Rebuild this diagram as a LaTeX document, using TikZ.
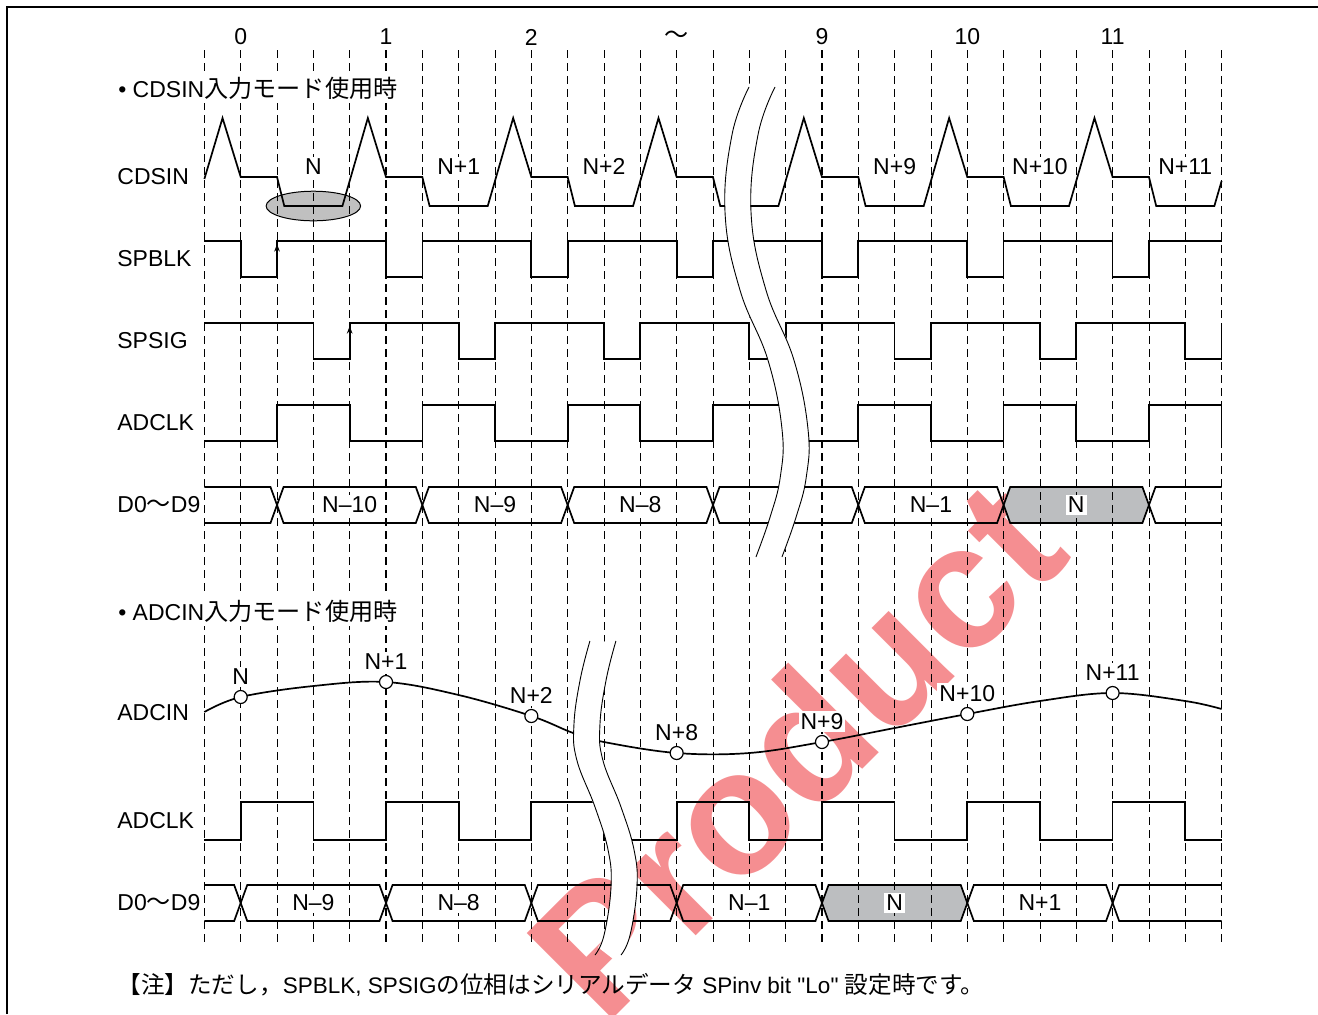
\documentclass[tikz,border=0pt]{standalone}
\usepackage{fontspec}
\setmainfont{Liberation Sans}[Ligatures=TeXOff]
\newfontfamily\jp[Scale=1.05]{Noto Sans CJK JP}
\usepackage{tikz}
\usetikzlibrary{arrows.meta, positioning}
\tikzset{>={Stealth[length=3.8pt, width=2.8pt]}}
\definecolor{dgray}{RGB}{188,190,192}
\definecolor{egray}{RGB}{192,192,192}
\definecolor{wmred}{RGB}{235,30,35}
\tikzset{
	gridline/.style={dash pattern=on 4pt off 2.5pt, line width=0.45pt},
	gridmajor/.style={gridline, line width=0.7pt},
	wave/.style={line width=0.85pt},
	sig/.style={anchor=west, inner sep=0pt},
	ttl/.style={anchor=west, fill=white, inner sep=2pt},
	tag/.style={fill=white, inner sep=1pt},
	smp/.style={circle, draw, fill=white, line width=0.6pt, minimum size=6.5pt, inner sep=0pt},
}
\newcommand{\bushex}[3]{(#2, #1)--({#2+0.18}, {#1-18})--({#3-0.18}, {#1-18})--(#3, #1)--({#3-0.18}, {#1+18})--({#2+0.18}, {#1+18})--cycle}

\begin{document}
\begin{tikzpicture}[x=18.165pt, y=-0.5pt, font={\fontsize{11.5}{13.8}\selectfont}]
	\useasboundingbox (-6.6254, 0) rectangle (29.6532, 1014);
	\node [rotate=45, text=wmred, text opacity=0.5, font={\fontsize{88}{90}\selectfont\bfseries}] (wmark) at (15.25, 748) {Product};
	\draw (-6.433, 1014)--(-6.433, 7)--(29.7, 7) [line width=1.1pt];
	\fill \bushex{505}{21}{25} [dgray];
	\fill \bushex{903}{16}{20} [dgray];
	\draw [fill=egray, line width=0.5pt] (2, 206) ellipse [x radius=1.3, y radius=14.8];
	\foreach \t in {-1,...,27} \draw [gridline] (\t, 50)--(\t, 945);
	\foreach \t in {0,4,...,24} \draw [gridmajor] (\t, 50)--(\t, 945);

	\foreach \t/\s in {0/0, 4/1, 8/2, 16/9, 20/10, 24/11} \node (tm\t) at (\t, 37) {\s};
	\node (tm12) at (12, 37) {\jp ～};
	\node [ttl] (ttlcds) at (-3.49, 88) {• CDSIN{\jp 入力モード使用時}};
	\node [ttl] (ttladc) at (-3.49, 611) {• ADCIN{\jp 入力モード使用時}};
	\node [sig] (lcds) at (-3.405, 177) {CDSIN};
	\node [sig] (lblk) at (-3.405, 259) {SPBLK};
	\node [sig] (lsig) at (-3.405, 341) {SPSIG};
	\node [sig] (lclk) at (-3.405, 423) {ADCLK};
	\node [sig] (ldat) at (-3.405, 505) {D0{\jp ～}D9};
	\node [sig] (ladc) at (-3.405, 713) {ADCIN};
	\node [sig] (lclkb) at (-3.405, 821) {ADCLK};
	\node [sig] (ldatb) at (-3.405, 903) {D0{\jp ～}D9};
	\node [sig, font={\fontsize{11.25}{13.5}\selectfont}] (note) at (-3.405, 985) {{\jp 【注】ただし，}SPBLK, SPSIG{\jp の位相はシリアルデータ} SPinv bit "Lo" {\jp 設定時です。}};

	\foreach \t/\s in {2/N, 6/N+1, 10/N+2, 18/N+9, 22/N+10, 26/N+11} \node [tag] (cd\t) at (\t, 166.7) {\s};
	\draw [wave] (-1, 179)--(-0.5, 118)--(0, 177) \foreach \k in {0,4,...,20} {--({\k+1}, 177)--({\k+1.2}, 206)--({\k+2.8}, 206)--({\k+3.5}, 118)--({\k+4}, 177)} --(25, 177)--(25.2, 206)--(26.8, 206)--(27, 181);
	\draw [wave] (-1, 240.7) \foreach \k in {0,4,...,24} {--(\k, 240.7)--(\k, 277)--({\k+1}, 277)--({\k+1}, 240.7)} --(27, 240.7);
	\draw [wave, ->] (1, 268)--(1, 244);
	\draw [wave] (-1, 322.7) \foreach \k in {2,6,...,26} {--(\k, 322.7)--(\k, 359.3)--({\k+1}, 359.3)--({\k+1}, 322.7)};
	\draw [wave, ->] (3, 350)--(3, 326);
	\draw [wave] (-1, 441) \foreach \k in {1,5,...,25} {--(\k, 441)--(\k, 405)--({\k+2}, 405)--({\k+2}, 441)};

	\draw [wave] (-1, 487)--(0.82, 487)--(1, 505)--(0.82, 523)--(-1, 523);
	\foreach \a/\b in {1/5, 5/9, 9/13, 13/17, 17/21, 21/25} \draw [wave] \bushex{505}{\a}{\b};
	\draw [wave] (27, 487)--(25.18, 487)--(25, 505)--(25.18, 523)--(27, 523);
	\foreach \t/\s in {3/N–10, 7/N–9, 11/N–8, 19/N–1} \node [tag] (da\t) at (\t, 505) {\s};
	\node [tag] (da23) at (23, 505) {N};

	\draw [wave] plot [smooth, tension=0.6] coordinates {(-1, 712) (0, 697) (2, 686) (4, 682) (6, 695) (8, 716) (9.15, 733) (10, 742) (12, 753) (14, 753) (16, 742) (18, 728) (20, 714) (22, 701) (24, 693) (26, 701) (27, 709)};
	\foreach \t/\y/\s in {0/697/N, 4/682/N+1, 8/716/N+2, 12/753/N+8, 16/742/N+9, 20/714/N+10, 24/693/N+11} {
		\node [smp] (s\t) at (\t, \y) {};
		\node [tag, above=1.5pt of s\t] (ls\t) {\s};
	}
	\draw [wave] (-1, 840) \foreach \k in {0,4,...,24} {--(\k, 840)--(\k, 802)--({\k+2}, 802)--({\k+2}, 840)} --(27, 840);

	\draw [wave] (-1, 885)--(-0.18, 885)--(0, 903)--(-0.18, 921)--(-1, 921);
	\foreach \a/\b in {0/4, 4/8, 8/12, 12/16, 16/20, 20/24} \draw [wave] \bushex{903}{\a}{\b};
	\draw [wave] (27, 885)--(24.18, 885)--(24, 903)--(24.18, 921)--(27, 921);
	\foreach \t/\s in {2/N–9, 6/N–8, 14/N–1, 22/N+1} \node [tag] (db\t) at (\t, 903) {\s};
	\node [tag] (db18) at (18, 903) {N};

	\foreach \s/\c/\w in {0pt/white/12.6pt, -6.5pt/black/0.45pt, 6.5pt/black/0.45pt} {
		\draw [xshift=\s, draw=\c, line width=\w] plot [smooth, tension=0.7] coordinates {(14.35, 87) (13.88, 135) (13.69, 213) (14.10, 290) (14.87, 360) (15.26, 430) (15.21, 477) (14.93, 517) (14.54, 557)};
		\draw [xshift=\s, draw=\c, line width=\w] plot [smooth, tension=0.7] coordinates {(9.97, 641) (9.70, 680) (9.53, 725) (9.61, 760) (10.11, 807) (10.47, 850) (10.55, 887) (10.36, 935) (10.11, 955)};
	}
\end{tikzpicture}
\end{document}
